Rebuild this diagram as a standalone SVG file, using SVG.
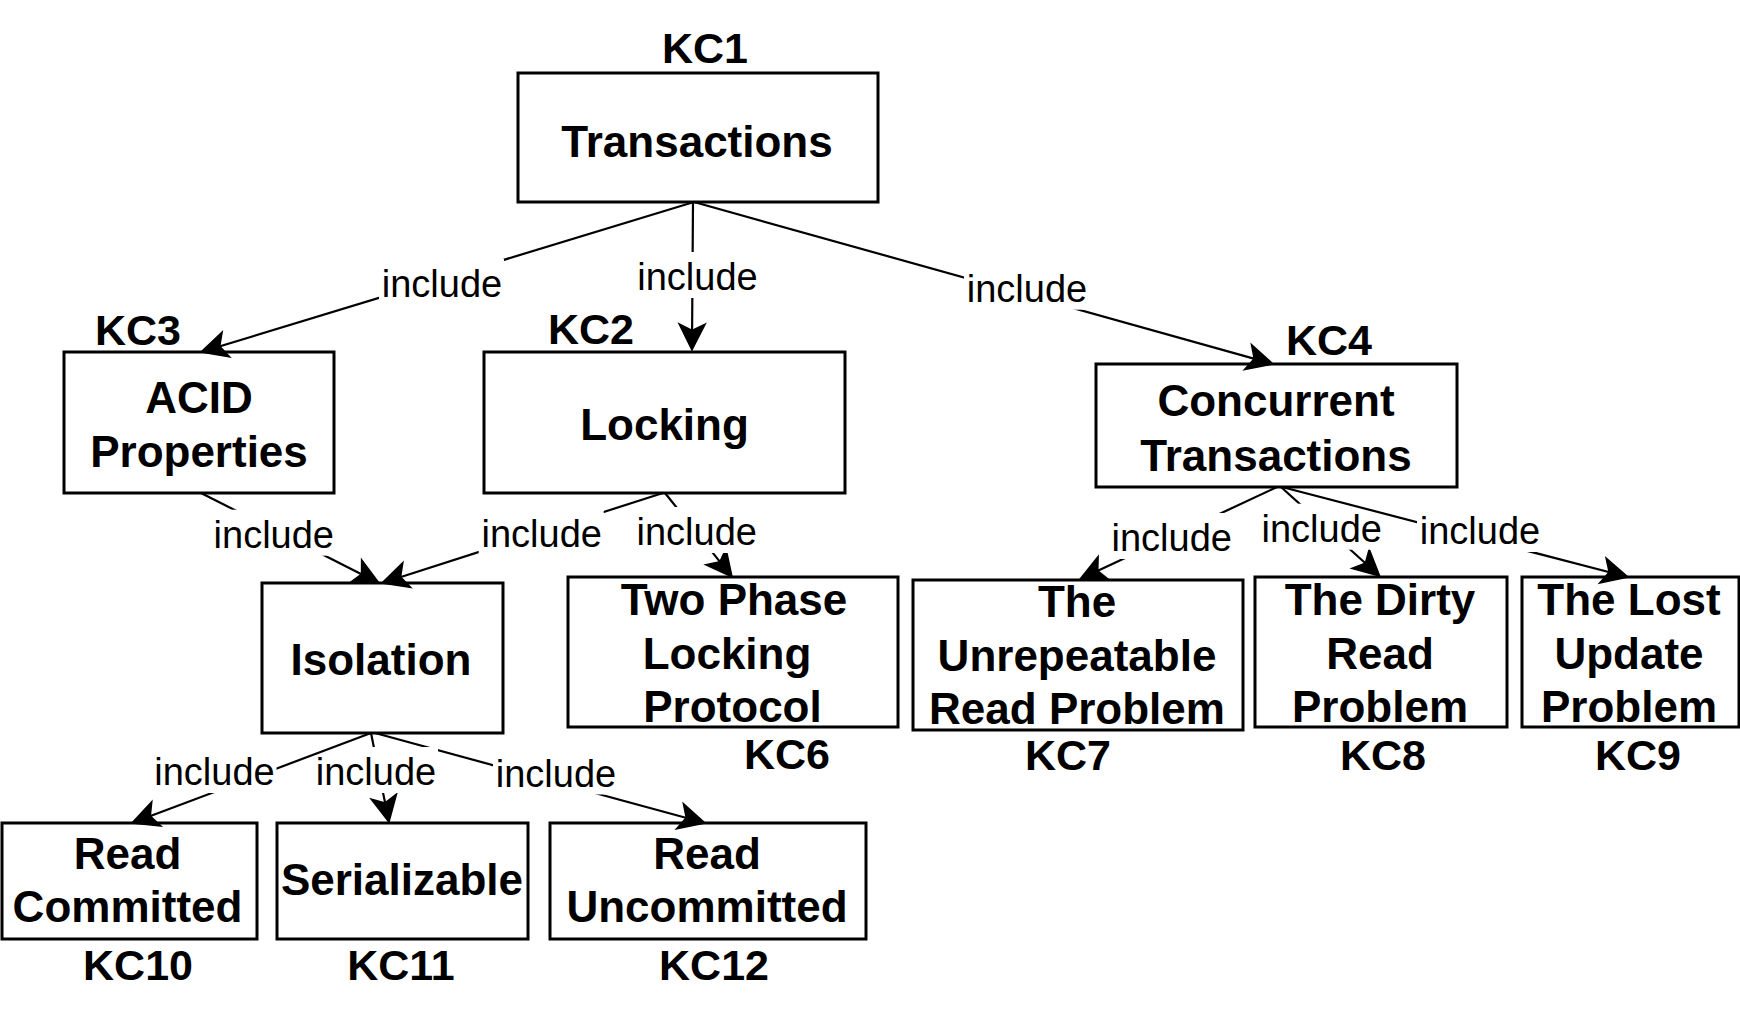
<svg xmlns="http://www.w3.org/2000/svg" width="1740" height="1011" viewBox="0 0 1740 1011">
<style>
.node rect{fill:#fff;stroke:#000;stroke-width:3}
.nt{font-family:"Liberation Sans",Arial,sans-serif;font-weight:bold;font-size:44px;text-anchor:middle;fill:#000}
.kc{font-family:"Liberation Sans",Arial,sans-serif;font-weight:bold;font-size:43px;text-anchor:middle;fill:#000}
.edge line{stroke:#000;stroke-width:2.2;fill:none;marker-end:url(#arr)}
.edge rect{fill:#fff;stroke:none}
.lb{font-family:"Liberation Sans",Arial,sans-serif;font-size:38px;text-anchor:middle;fill:#000}
</style>
<defs>
<marker id="arr" markerUnits="userSpaceOnUse" markerWidth="40" markerHeight="40" viewBox="-30 -20 40 40" refX="-19" refY="0" orient="auto">
<path d="M0,0 L-26,-13 L-19.5,0 L-26,13 Z" fill="#000" stroke="#000" stroke-width="1.5" stroke-linejoin="miter"/>
</marker>
</defs>
<rect width="1740" height="1011" fill="#fff"/>
<g id="nodes">
<g id="kc1" class="node"><rect x="518" y="73" width="360" height="129"/><text class="nt" x="697" y="157">Transactions</text><text class="kc" x="705" y="63">KC1</text></g>
<g id="kc3" class="node"><rect x="64" y="352" width="270" height="141"/><text class="nt" x="199" y="413">ACID</text><text class="nt" x="199" y="467">Properties</text><text class="kc" x="138" y="345">KC3</text></g>
<g id="kc2" class="node"><rect x="484" y="352" width="361" height="141"/><text class="nt" x="664.5" y="440">Locking</text><text class="kc" x="591" y="344">KC2</text></g>
<g id="kc4" class="node"><rect x="1096" y="364" width="361" height="123"/><text class="nt" x="1276" y="416">Concurrent</text><text class="nt" x="1276" y="471">Transactions</text><text class="kc" x="1329" y="355">KC4</text></g>
<g id="kc5" class="node"><rect x="262" y="583" width="241" height="150"/><text class="nt" x="381" y="675">Isolation</text></g>
<g id="kc6" class="node"><rect x="568" y="577" width="330" height="150"/><text class="nt" x="734" y="615">Two Phase</text><text class="nt" x="727" y="669">Locking</text><text class="nt" x="732.5" y="722">Protocol</text><text class="kc" x="787" y="769">KC6</text></g>
<g id="kc7" class="node"><rect x="913" y="580" width="330" height="150"/><text class="nt" x="1077" y="617">The</text><text class="nt" x="1077" y="671">Unrepeatable</text><text class="nt" x="1077" y="724">Read Problem</text><text class="kc" x="1068" y="770">KC7</text></g>
<g id="kc8" class="node"><rect x="1255" y="577" width="252" height="150"/><text class="nt" x="1380" y="615">The Dirty</text><text class="nt" x="1380" y="669">Read</text><text class="nt" x="1380" y="722">Problem</text><text class="kc" x="1383" y="770">KC8</text></g>
<g id="kc9" class="node"><rect x="1522" y="577" width="217" height="150"/><text class="nt" x="1629" y="615">The Lost</text><text class="nt" x="1629" y="669">Update</text><text class="nt" x="1629" y="722">Problem</text><text class="kc" x="1638" y="770">KC9</text></g>
<g id="kc10" class="node"><rect x="2" y="823" width="255" height="116"/><text class="nt" x="127.5" y="868.5">Read</text><text class="nt" x="127.5" y="921.7">Committed</text><text class="kc" x="138" y="979.5">KC10</text></g>
<g id="kc11" class="node"><rect x="277" y="823" width="251" height="116"/><text class="nt" x="402" y="895">Serializable</text><text class="kc" x="401" y="979.5">KC11</text></g>
<g id="kc12" class="node"><rect x="550" y="823" width="316" height="116"/><text class="nt" x="707" y="868.5">Read</text><text class="nt" x="707" y="921.7">Uncommitted</text><text class="kc" x="714" y="979.5">KC12</text></g>
</g>
<g id="connectors">
<g class="edge" id="e1"><line x1="694" y1="202" x2="219.2" y2="346.5"/><rect x="379" y="259" width="125" height="46"/><text class="lb" x="442" y="297">include</text></g>
<g class="edge" id="e2"><line x1="693" y1="202" x2="692.1" y2="331"/><rect x="634.5" y="252" width="125" height="46"/><text class="lb" x="697.5" y="290">include</text></g>
<g class="edge" id="e3"><line x1="694" y1="202" x2="1254.7" y2="358.9"/><rect x="964" y="263.7" width="125" height="46"/><text class="lb" x="1027" y="301.7">include</text></g>
<g class="edge" id="e4"><line x1="201" y1="493" x2="362" y2="574.4"/><rect x="210.8" y="509.7" width="125" height="46"/><text class="lb" x="273.8" y="547.7">include</text></g>
<g class="edge" id="e5"><line x1="663" y1="493" x2="400.1" y2="577.2"/><rect x="478.7" y="509.3" width="125" height="46"/><text class="lb" x="541.7" y="547.3">include</text></g>
<g class="edge" id="e6"><line x1="665" y1="493" x2="720.2" y2="562.1"/><rect x="633.7" y="507" width="125" height="46"/><text class="lb" x="696.7" y="545">include</text></g>
<g class="edge" id="e7"><line x1="1277" y1="487" x2="1097.3" y2="571.1"/><rect x="1108.7" y="513" width="125" height="46"/><text class="lb" x="1171.7" y="551">include</text></g>
<g class="edge" id="e8"><line x1="1281" y1="487" x2="1365.7" y2="563.5"/><rect x="1258.7" y="503.7" width="125" height="46"/><text class="lb" x="1321.7" y="541.7">include</text></g>
<g class="edge" id="e9"><line x1="1282" y1="487" x2="1609.6" y2="572.3"/><rect x="1417" y="506" width="125" height="46"/><text class="lb" x="1480" y="544">include</text></g>
<g class="edge" id="e12"><line x1="375" y1="733" x2="686.7" y2="818"/><rect x="493" y="748.5" width="125" height="46"/><text class="lb" x="556" y="786.5">include</text></g>
<g class="edge" id="e11"><line x1="371" y1="733" x2="385.2" y2="803.4"/><rect x="313" y="747" width="125" height="46"/><text class="lb" x="376" y="785">include</text></g>
<g class="edge" id="e10"><line x1="371" y1="733" x2="149.8" y2="816.3"/><rect x="151.5" y="747" width="125" height="46"/><text class="lb" x="214.5" y="785">include</text></g>
</g>
</svg>
